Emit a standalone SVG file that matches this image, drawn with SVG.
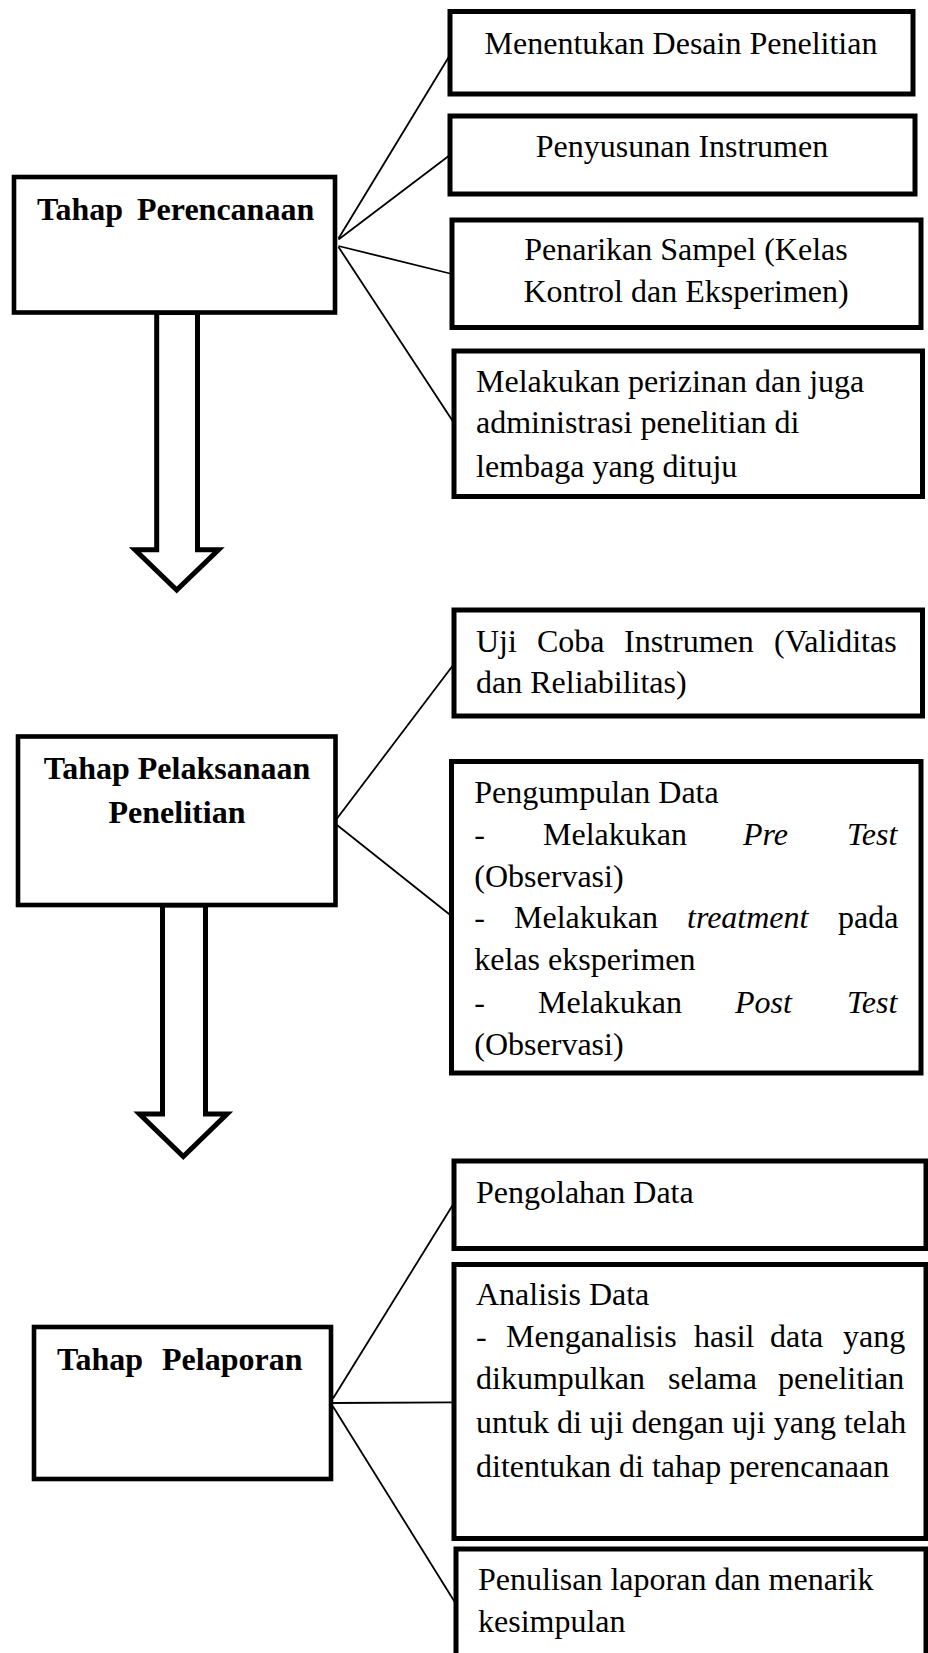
<svg xmlns="http://www.w3.org/2000/svg" width="928" height="1653" viewBox="0 0 928 1653">
<style>
.box{fill:#fff;stroke:#000;stroke-width:5}
.tbox{fill:#fff;stroke:#000;stroke-width:4.6}
.arr{fill:#fff;stroke:#000;stroke-width:5;stroke-linejoin:miter}
.con line{stroke:#000;stroke-width:1.8}
text{font-family:"Liberation Serif","Times New Roman",serif;font-size:32px;fill:#000}
.b{font-weight:bold}
.c{text-anchor:middle}
.i{font-style:italic}
</style>
<rect width="928" height="1653" fill="#fff"/>
<g id="connectors" class="con">
<line x1="338.5" y1="238.5" x2="450" y2="55"/>
<line x1="338.5" y1="239.5" x2="450" y2="155"/>
<line x1="338.5" y1="246" x2="452" y2="274"/>
<line x1="338.5" y1="247" x2="454" y2="423"/>
<line x1="337" y1="818.5" x2="454" y2="664"/>
<line x1="337" y1="825" x2="451.5" y2="916"/>
<line x1="333" y1="1398.5" x2="454" y2="1203"/>
<line x1="333" y1="1403" x2="454" y2="1402.3"/>
<line x1="333" y1="1406.5" x2="456" y2="1604"/>
</g>
<g id="arrow1"><polygon class="arr" points="156.7,312.5 156.7,549.8 135,549.8 176.7,590 218.5,549.8 197.5,549.8 197.5,312.5"/></g>
<g id="arrow2"><polygon class="arr" points="162.5,905 162.5,1114 139.5,1114 183.3,1156.5 227,1114 205.5,1114 205.5,905"/></g>
<g id="n-perencanaan">
<rect class="tbox" x="14" y="177" width="321" height="135.5"/>
<text class="b" y="220"><tspan x="37">Tahap</tspan><tspan x="137">Perencanaan</tspan></text>
</g>
<g id="n-desain">
<rect class="box" x="450" y="11.5" width="463" height="82.5"/>
<text class="c" x="681" y="54">Menentukan Desain Penelitian</text>
</g>
<g id="n-instrumen">
<rect class="box" x="450" y="116" width="465" height="78"/>
<text class="c" x="682" y="157.3">Penyusunan Instrumen</text>
</g>
<g id="n-sampel">
<rect class="box" x="452" y="220" width="469" height="107.5"/>
<text class="c" x="686" y="260">Penarikan Sampel (Kelas</text>
<text class="c" x="686" y="301.7">Kontrol dan Eksperimen)</text>
</g>
<g id="n-perizinan">
<rect class="box" x="454" y="351" width="468.5" height="145.5"/>
<text x="476" y="391.7">Melakukan perizinan dan juga</text>
<text x="476" y="433.3">administrasi penelitian di</text>
<text x="476" y="476.7">lembaga yang dituju</text>
</g>
<g id="n-pelaksanaan">
<rect class="tbox" x="18" y="736.5" width="317.5" height="168.5"/>
<text class="b c" x="177" y="779">Tahap Pelaksanaan</text>
<text class="b c" x="177" y="822.7">Penelitian</text>
</g>
<g id="n-ujicoba">
<rect class="box" x="454" y="610" width="468.5" height="106"/>
<text y="651.7"><tspan x="476">Uji</tspan><tspan x="537">Coba</tspan><tspan x="624">Instrumen</tspan><tspan x="774">(Validitas</tspan></text>
<text x="476" y="693.3">dan Reliabilitas)</text>
</g>
<g id="n-pengumpulan">
<rect class="box" x="451.5" y="761.5" width="469.5" height="311.5"/>
<text x="474.3" y="803.3">Pengumpulan Data</text>
<text y="845"><tspan x="474.3">-</tspan><tspan x="543">Melakukan</tspan><tspan class="i" x="743">Pre</tspan><tspan class="i" x="847">Test</tspan></text>
<text x="474.3" y="886.7">(Observasi)</text>
<text y="928.3"><tspan x="474.3">-</tspan><tspan x="514">Melakukan</tspan><tspan class="i" x="687">treatment</tspan><tspan x="838">pada</tspan></text>
<text x="474.3" y="970">kelas eksperimen</text>
<text y="1013.3"><tspan x="474.3">-</tspan><tspan x="538">Melakukan</tspan><tspan class="i" x="735">Post</tspan><tspan class="i" x="847">Test</tspan></text>
<text x="474.3" y="1055">(Observasi)</text>
</g>
<g id="n-pelaporan">
<rect class="tbox" x="34" y="1327" width="297" height="152"/>
<text class="b" y="1370"><tspan x="57">Tahap</tspan><tspan x="162">Pelaporan</tspan></text>
</g>
<g id="n-pengolahan">
<rect class="box" x="454" y="1161" width="472" height="87.5"/>
<text x="476" y="1202.7">Pengolahan Data</text>
</g>
<g id="n-analisis">
<rect class="box" x="454" y="1264.5" width="472" height="274"/>
<text x="476" y="1305">Analisis Data</text>
<text y="1346.7"><tspan x="476">-</tspan><tspan x="506">Menganalisis</tspan><tspan x="694">hasil</tspan><tspan x="770">data</tspan><tspan x="843">yang</tspan></text>
<text y="1389.3"><tspan x="476">dikumpulkan</tspan><tspan x="668">selama</tspan><tspan x="778">penelitian</tspan></text>
<text x="476" y="1432.7">untuk di uji dengan uji yang telah</text>
<text x="476" y="1476.7">ditentukan di tahap perencanaan</text>
</g>
<g id="n-penulisan">
<rect class="box" x="456" y="1549" width="470" height="200"/>
<text x="478" y="1590">Penulisan laporan dan menarik</text>
<text x="478" y="1631.7">kesimpulan</text>
</g>
</svg>
